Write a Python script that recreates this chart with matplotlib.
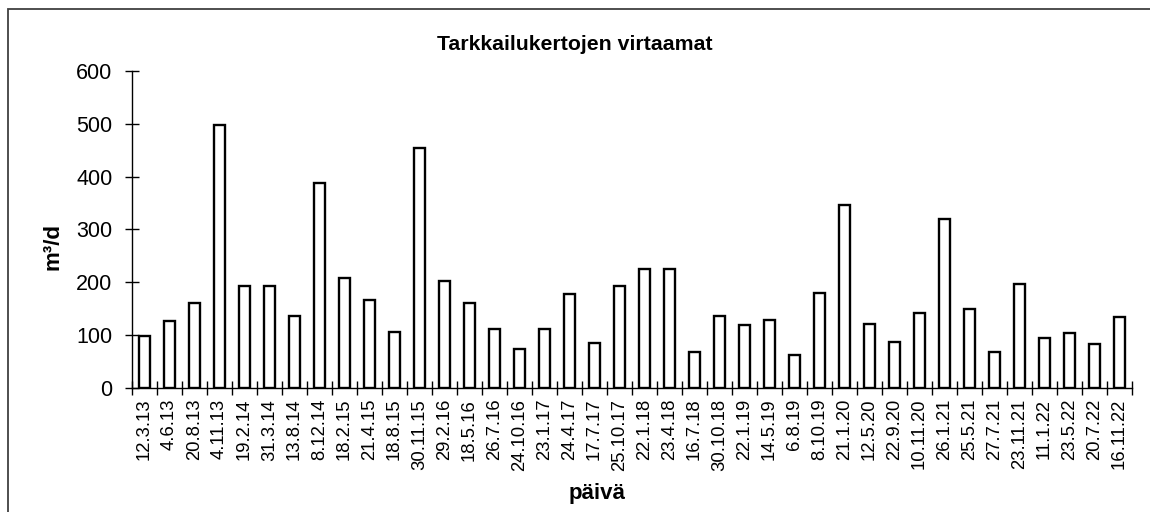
import matplotlib
matplotlib.use("Agg")
import matplotlib.pyplot as plt
from matplotlib.patches import Rectangle

plt.rcParams['font.family'] = ['Liberation Sans', 'DejaVu Sans']

dates = ["12.3.13", "4.6.13", "20.8.13", "4.11.13", "19.2.14", "31.3.14", "13.8.14",
         "8.12.14", "18.2.15", "21.4.15", "18.8.15", "30.11.15", "29.2.16", "18.5.16",
         "26.7.16", "24.10.16", "23.1.17", "24.4.17", "17.7.17", "25.10.17", "22.1.18",
         "23.4.18", "16.7.18", "30.10.18", "22.1.19", "14.5.19", "6.8.19", "8.10.19",
         "21.1.20", "12.5.20", "22.9.20", "10.11.20", "26.1.21", "25.5.21", "27.7.21",
         "23.11.21", "11.1.22", "23.5.22", "20.7.22", "16.11.22"]
flows = [98, 127, 160, 498, 193, 193, 136, 388, 208, 166, 105, 454, 203, 160,
         111, 74, 111, 177, 85, 193, 224, 225, 68, 136, 119, 128, 62, 180,
         346, 121, 87, 141, 320, 149, 68, 196, 94, 104, 82, 133]
yticks = [0, 100, 200, 300, 400, 500, 600]

W, H = 1150, 512
fig = plt.figure(figsize=(W / 100, H / 100), dpi=100)
ax = fig.add_axes([132 / W, 1 - 387.7 / H, 1000 / W, (387.7 - 71) / H])

x = list(range(len(dates)))
ax.bar(x, flows, width=0.42, color='white', edgecolor='black', linewidth=1.7)

ax.set_xlim(-0.5, len(dates) - 0.5)
ax.set_ylim(0, 600)
ax.set_yticks(yticks)
ax.set_yticklabels([str(v) for v in yticks])
ax.set_xticks([i - 0.5 for i in range(len(dates) + 1)])
ax.set_xticklabels([])
ax.set_xticks(x, minor=True)
ax.set_xticklabels(dates, minor=True, rotation=90, fontsize=13.3)
ax.tick_params(axis='x', which='minor', length=0, pad=8)
ax.tick_params(axis='x', which='major', direction='inout', length=10, width=1)
ax.tick_params(axis='y', direction='inout', length=10, width=1, labelsize=15.5, pad=9)

for s in ['top', 'right']:
    ax.spines[s].set_visible(False)
for s in ['left', 'bottom']:
    ax.spines[s].set_linewidth(1)
    ax.spines[s].set_color('black')

fig.text(575 / W, 1 - 45 / H, "Tarkkailukertojen virtaamat", ha='center', va='center',
         fontsize=15.3, fontweight='bold')
fig.text(597 / W, 1 - 493 / H, "päivä", ha='center', va='center',
         fontsize=16, fontweight='bold')
fig.text(53 / W, 1 - 246 / H, "m³/d", ha='center', va='center', rotation=90,
         fontsize=16, fontweight='bold')

fig.patches.append(Rectangle((8 / W, -0.1), 2, (H - 9) / H + 0.1,
                             transform=fig.transFigure, fill=False,
                             edgecolor='#404040', linewidth=1.3))

fig.savefig("out.png", dpi=100)
